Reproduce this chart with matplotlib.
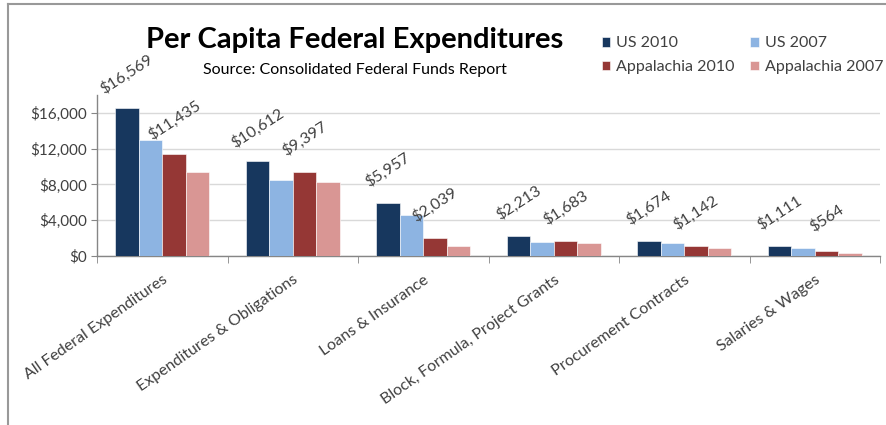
import matplotlib.pyplot as plt
from matplotlib.lines import Line2D
import numpy as np

plt.rcParams['font.family'] = ['Lato', 'DejaVu Sans']

categories = ["All Federal Expenditures", "Expenditures & Obligations", "Loans & Insurance",
              "Block, Formula, Project Grants", "Procurement Contracts", "Salaries & Wages"]
us_2010 = [16569, 10612, 5957, 2213, 1674, 1111]
us_2007 = [13000, 8550, 4550, 1600, 1420, 850]
app_2010 = [11435, 9397, 2039, 1683, 1142, 564]
app_2007 = [9350, 8220, 1100, 1420, 950, 390]

series = [("US 2010", us_2010, "#17375E"),
          ("US 2007", us_2007, "#8DB4E2"),
          ("Appalachia 2010", app_2010, "#953735"),
          ("Appalachia 2007", app_2007, "#D99694")]
labelled = ["US 2010", "Appalachia 2010"]

fig = plt.figure(figsize=(8.87, 4.25), dpi=100)
ax = fig.add_axes([0.1094, 0.3976, 0.9921 - 0.1094, 0.7765 - 0.3976])

x = np.arange(len(categories))
w = 0.18
handles = []
for i, (name, vals, color) in enumerate(series):
    pos = x + (i - 1.5) * w
    bars = ax.bar(pos, vals, width=w, color=color, edgecolor="white", linewidth=0.4, zorder=3)
    handles.append(bars)
    if name in labelled:
        for px, v in zip(pos, vals):
            ax.annotate(f"${v:,}", (px, v), xytext=(0, 24), textcoords="offset points",
                        ha="center", va="center", rotation=33, fontsize=11.5, color="#404040")

ax.set_xlim(-0.5, len(categories) - 0.5)
ax.set_ylim(0, 18000)
ax.set_yticks([0, 4000, 8000, 12000, 16000])
ax.set_yticklabels([f"${t:,}" for t in [0, 4000, 8000, 12000, 16000]], fontsize=11, color="#404040")
ax.yaxis.grid(True, color="#D9D9D9", linewidth=1)
ax.set_axisbelow(True)

ax.set_xticks(x)
ax.set_xticklabels(categories, rotation=35, ha="right", va="top", rotation_mode="anchor",
                   fontsize=11.5, color="#404040")
ax.tick_params(axis="x", which="major", length=0, pad=12)
ax.set_xticks(np.arange(len(categories) + 1) - 0.5, minor=True)
ax.tick_params(axis="x", which="minor", length=5, color="#868686", direction="out")
ax.tick_params(axis="y", length=4, color="#868686", direction="out", pad=3)

for s in ["top", "right"]:
    ax.spines[s].set_visible(False)
for s in ["left", "bottom"]:
    ax.spines[s].set_color("#868686")
    ax.spines[s].set_linewidth(1)

fig.text(0.40, 0.905, "Per Capita Federal Expenditures", ha="center", va="center",
         fontsize=21, fontweight="bold", color="black")
fig.text(0.40, 0.836, "Source: Consolidated Federal Funds Report", ha="center", va="center",
         fontsize=11.5, color="black")

# legend fills column by column: order so rows read US, then Appalachia
order = [0, 2, 1, 3]
fig.legend([handles[k] for k in order], [series[k][0] for k in order], ncol=2,
           loc="center left", bbox_to_anchor=(0.662, 0.87), frameon=False, fontsize=11.5,
           handlelength=0.55, handleheight=0.55, handletextpad=0.35, columnspacing=1.0,
           labelspacing=0.6, labelcolor="#404040")

# frame lines along top and left edge
fig.add_artist(Line2D([8 / 887, 1], [1 - 4 / 425, 1 - 4 / 425], transform=fig.transFigure,
                      color="#999999", linewidth=1.5))
fig.add_artist(Line2D([8 / 887, 8 / 887], [0, 1 - 4 / 425], transform=fig.transFigure,
                      color="#999999", linewidth=1.5))

fig.savefig("out.png", dpi=100)
